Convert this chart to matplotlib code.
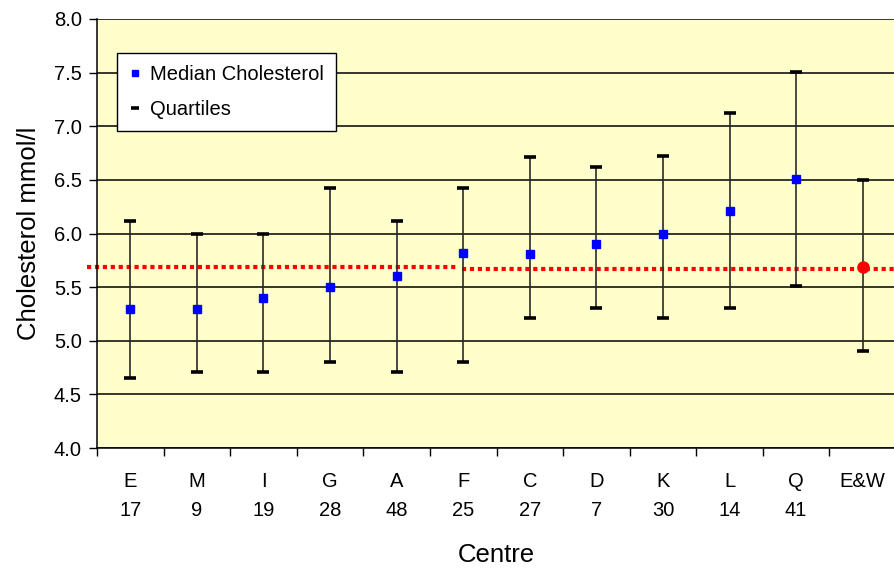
import matplotlib
matplotlib.use("Agg")
import matplotlib.pyplot as plt
from matplotlib.lines import Line2D

plt.rcParams['font.family'] = ['Liberation Sans', 'DejaVu Sans']

centres = ['E', 'M', 'I', 'G', 'A', 'F', 'C', 'D', 'K', 'L', 'Q', 'E&W']
counts = ['17', '9', '19', '28', '48', '25', '27', '7', '30', '14', '41', '']
medians = [5.30, 5.30, 5.40, 5.50, 5.60, 5.82, 5.81, 5.90, 6.00, 6.21, 6.51]
lower_q = [4.65, 4.71, 4.71, 4.80, 4.71, 4.80, 5.21, 5.31, 5.21, 5.31, 5.51, 4.90]
upper_q = [6.12, 6.00, 6.00, 6.42, 6.12, 6.42, 6.71, 6.62, 6.72, 7.12, 7.51, 6.50]
ew_median = 5.69
ref_left = 5.686
ref_right = 5.667

BG = '#FFFFCC'


def main():
    fig = plt.figure(figsize=(8.94, 5.68), dpi=100)
    ax = fig.add_axes([97 / 894, 120 / 568, 799 / 894, 429 / 568])
    ax.set_facecolor(BG)

    x = list(range(len(centres)))

    # quartile bars + caps
    ax.vlines(x, lower_q, upper_q, colors='#2a2a2a', lw=1.2, zorder=3)
    ax.plot(x, lower_q, ls='none', marker='_', ms=8, mew=2.6, color='black', zorder=4)
    ax.plot(x, upper_q, ls='none', marker='_', ms=8, mew=2.6, color='black', zorder=4)

    # medians
    ax.plot(x[:-1], medians, ls='none', marker='s', ms=6, color='#0000FF', zorder=5)
    ax.plot([x[-1]], [ew_median], ls='none', marker='o', ms=8, color='#FF0000', zorder=5)

    # dotted reference line (two pieces, as drawn in the original)
    dots = dict(color='#FF0000', lw=3.0, ls=(0, (1.0, 0.9)), dash_capstyle='butt',
                clip_on=False, zorder=2)
    ax.plot([-0.645, 4.94], [ref_left, ref_left], **dots)
    ax.plot([4.985, 11.6], [ref_right, ref_right], **dots)

    ax.set_xlim(-0.5, 11.5)
    ax.set_ylim(4.0, 8.0)
    ax.set_yticks([4.0 + 0.5 * i for i in range(9)])
    ax.set_yticklabels([f'{4.0 + 0.5 * i:.1f}' for i in range(9)], fontsize=14.5)
    ax.yaxis.grid(True, color='black', lw=1.1)
    ax.set_axisbelow(True)

    ax.set_xticks(x)
    ax.set_xticklabels([f'{c}\n{n}' for c, n in zip(centres, counts)],
                       fontsize=14.5, linespacing=1.72)
    ax.tick_params(axis='x', which='major', length=0, pad=17)
    ax.set_xticks([i - 0.5 for i in range(len(centres) + 1)], minor=True)
    ax.tick_params(axis='x', which='minor', length=6, width=1, direction='out')
    ax.tick_params(axis='y', length=6, width=1, direction='out', pad=5)

    for s in ['top', 'right']:
        ax.spines[s].set_visible(False)
    ax.spines['left'].set_linewidth(1.1)
    ax.spines['bottom'].set_linewidth(1.1)

    ax.set_ylabel('Cholesterol mmol/l', fontsize=18.5, labelpad=9)
    ax.set_xlabel('Centre', fontsize=18.5, labelpad=16)

    handles = [
        Line2D([], [], ls='none', marker='s', ms=4.2, color='#0000FF'),
        Line2D([], [], ls='none', marker='_', ms=5.5, mew=2.6, color='black'),
    ]
    leg = ax.legend(handles, ['Median Cholesterol', 'Quartiles'], loc='upper left',
                    bbox_to_anchor=(0.025, 0.921), borderaxespad=0, fontsize=14.5,
                    fancybox=False, framealpha=1, edgecolor='black',
                    handlelength=0.6, handletextpad=0.45, labelspacing=0.8,
                    borderpad=0.6)
    leg.get_frame().set_linewidth(1.0)

    fig.savefig('out.png', dpi=100, facecolor='white')


if __name__ == '__main__':
    main()
